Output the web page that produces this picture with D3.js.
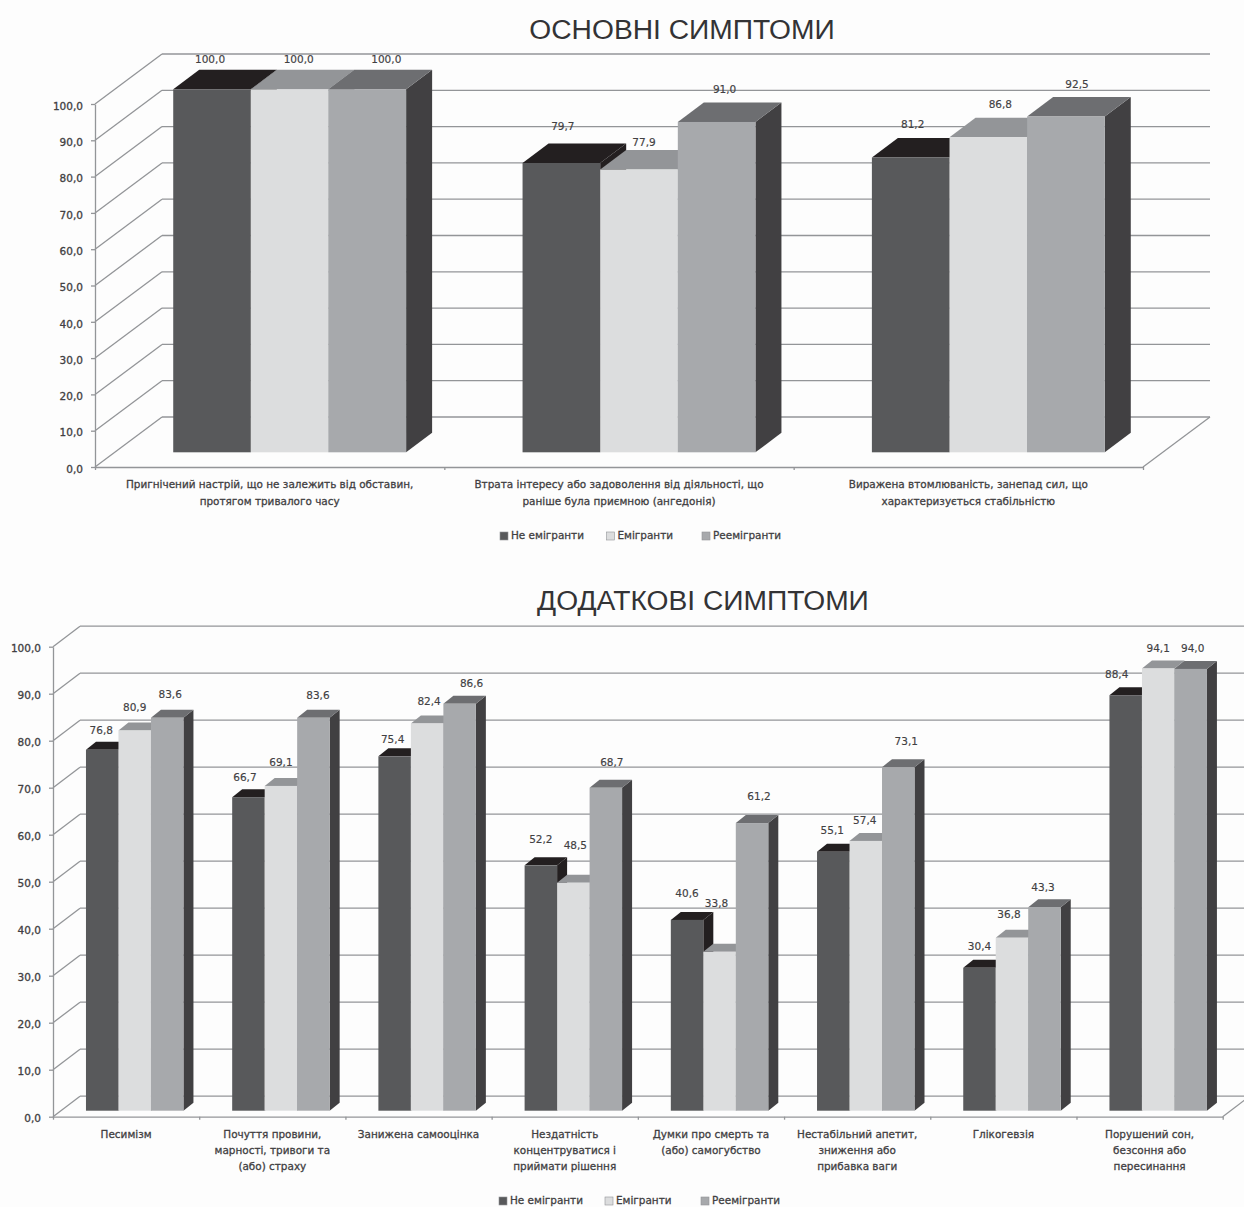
<!DOCTYPE html>
<html>
<head>
<meta charset="utf-8">
<title>Симптоми</title>
<script src="https://cdn.jsdelivr.net/npm/d3@7/dist/d3.min.js"></script>
<style>
  html, body { margin: 0; padding: 0; background: #fdfdfd; }
  svg { display: block; }
  text { font-family: "DejaVu Sans", sans-serif; fill: #414042; }
  .title { font-family: "Liberation Sans", sans-serif; font-size: 28.2px; fill: #333335; }
  .value { font-size: 10.5px; stroke: #414042; stroke-width: 0.15px; }
  .cat, .legend text { font-size: 10.45px; stroke: #414042; stroke-width: 0.3px; }
  .axis text { font-size: 10.5px; stroke: #414042; stroke-width: 0.3px; }
  .axis path, .axis line, .grid line { stroke: #939598; stroke-width: 1.3px; fill: none; }
</style>
</head>
<body>
<svg id="page" width="1244" height="1207"></svg>
<script>
const seriesNames = ["Не емігранти", "Емігранти", "Реемігранти"];
const yTicks = [0, 10, 20, 30, 40, 50, 60, 70, 80, 90, 100];

const mainTitle = "ОСНОВНІ СИМПТОМИ";
const mainCategories = [
  ["Пригнічений настрій, що не залежить від обставин,", "протягом тривалого часу"],
  ["Втрата інтересу або задоволення від діяльності, що", "раніше була приємною (ангедонія)"],
  ["Виражена втомлюваність, занепад сил, що", "характеризується стабільністю"]
];
const mainNonEmigrants = [100.0, 79.7, 81.2];
const mainEmigrants = [100.0, 77.9, 86.8];
const mainReturned = [100.0, 91.0, 92.5];

const extraTitle = "ДОДАТКОВІ СИМПТОМИ";
const extraCategories = [
  ["Песимізм"],
  ["Почуття провини,", "марності, тривоги та", "(або) страху"],
  ["Занижена самооцінка"],
  ["Нездатність", "концентруватися і", "приймати рішення"],
  ["Думки про смерть та", "(або) самогубство"],
  ["Нестабільний апетит,", "зниження або", "прибавка ваги"],
  ["Глікогевзія"],
  ["Порушений сон,", "безсоння або", "пересинання"]
];
const extraNonEmigrants = [76.8, 66.7, 75.4, 52.2, 40.6, 55.1, 30.4, 88.4];
const extraEmigrants = [80.9, 69.1, 82.4, 48.5, 33.8, 57.4, 36.8, 94.1];
const extraReturned = [83.6, 83.6, 86.6, 68.7, 61.2, 73.1, 43.3, 94.0];

// hand placed value labels: shift from the bar's top edge, [dx, dy] per bar
const mainLabelShift = [
  [[-2, -29], [9, -29], [19, -29]],
  [[1.5, -36], [5, -27], [8, -32]],
  [[2, -33], [12, -32], [11, -32]]
];
const extraLabelShift = [
  [[-1, -19], [0, -22], [3, -23]],
  [[-3.5, -19], [0, -23], [4.5, -22]],
  [[-2, -16], [2, -21], [12, -20]],
  [[0, -25], [2, -37], [6, -25]],
  [[0, -26], [-3, -48], [7, -26]],
  [[-1, -21], [-1, -20], [8, -25]],
  [[0, -21], [-3, -23], [-1.5, -19]],
  [[-9, -20], [0, -19], [2, -20]]
];

const faceColors = ["#58595b", "#dcddde", "#a7a9ac"];
const topColors = ["#231f20", "#939598", "#6d6e71"];
const sideColors = ["#231f20", "#939598", "#414042"];

const fmt = v => v.toFixed(1).replace(".", ",");
const svg = d3.select("#page");

function drawChart(o) {
  const g = svg.append("g");
  const values = [o.nonEmigrants, o.emigrants, o.returned];

  const x = d3.scaleBand().domain(d3.range(o.categories.length)).range([o.left, o.right]);
  const y = d3.scaleLinear().domain([0, 100]).range([o.bottom, o.top]);

  // bars take 2/3 of a category, the rest is the gap
  const gap = x.bandwidth() * o.gapShare / 2;
  const inner = d3.scaleBand().domain(d3.range(3)).range([gap, x.bandwidth() - gap]);

  // back wall lines and the slanted lines on the side wall
  const grid = g.append("g").attr("class", "grid");
  grid.selectAll(".back").data(yTicks).join("line")
    .attr("x1", o.left + o.wallX).attr("x2", o.right + o.wallX)
    .attr("y1", d => y(d) + o.wallY).attr("y2", d => y(d) + o.wallY);
  grid.selectAll(".wall").data(yTicks).join("line")
    .attr("x1", o.left).attr("x2", o.left + o.wallX)
    .attr("y1", d => y(d)).attr("y2", d => y(d) + o.wallY);
  grid.append("line")
    .attr("x1", o.right).attr("x2", o.right + o.wallX)
    .attr("y1", y(0)).attr("y2", y(0) + o.wallY);

  const axisY = d3.axisLeft(y).tickValues(yTicks).tickFormat(fmt).tickSize(4).tickPadding(8).tickSizeOuter(0);
  g.append("g").attr("class", "axis").attr("transform", `translate(${o.left},0)`).call(axisY)
    .selectAll("text").attr("dy", "0.5em");

  const axisX = d3.axisBottom(d3.scaleLinear().domain([0, o.categories.length]).range([o.left, o.right]))
    .tickValues(d3.range(o.categories.length + 1)).tickFormat("").tickSize(3).tickSizeOuter(0);
  g.append("g").attr("class", "axis").attr("transform", `translate(0,${o.bottom})`).call(axisX);

  // the bars, left to right so the neighbour covers the side face
  o.categories.forEach((cat, i) => {
    const bars = g.append("g");
    values.forEach((vals, s) => {
      const x0 = x(i) + inner(s) + o.floorX;
      const x1 = x0 + inner.bandwidth();
      const base = y(0) + o.floorY;
      const top = y(vals[i]) + o.floorY;
      const dx = o.depthX, dy = o.depthY;
      bars.append("path").attr("fill", sideColors[s])
        .attr("d", d3.line()([[x1, base], [x1 + dx, base + dy], [x1 + dx, top + dy], [x1, top]]));
      bars.append("path").attr("fill", topColors[s])
        .attr("d", d3.line()([[x0, top], [x0 + dx, top + dy], [x1 + dx, top + dy], [x1, top]]));
      bars.append("rect").attr("fill", faceColors[s])
        .attr("x", x0).attr("y", top).attr("width", inner.bandwidth()).attr("height", base - top);
    });
  });

  // value labels go on last, some of them sit over a neighbouring bar
  o.categories.forEach((cat, i) => {
    values.forEach((vals, s) => {
      const top = y(vals[i]) + o.floorY;
      const shift = o.labelShift[i][s];
      g.append("text").attr("class", "value")
        .attr("x", x(i) + inner(s) + o.floorX + inner.bandwidth() / 2 + shift[0])
        .attr("y", top + shift[1])
        .attr("text-anchor", "middle").attr("dominant-baseline", "middle")
        .text(fmt(vals[i]));
    });
  });

  // category captions
  o.categories.forEach((lines, i) => {
    const t = g.append("text").attr("class", "cat").attr("text-anchor", "middle");
    lines.forEach((line, k) => {
      t.append("tspan").attr("x", x(i) + x.bandwidth() / 2)
        .attr("y", o.captionY + k * o.captionStep).text(line);
    });
  });

  g.append("text").attr("class", "title").attr("text-anchor", "middle")
    .attr("x", o.titleX).attr("y", o.titleY).text(o.title);

  const legend = g.append("g").attr("class", "legend");
  seriesNames.forEach((name, s) => {
    legend.append("rect").attr("x", o.legendX[s]).attr("y", o.legendY - 4)
      .attr("width", 8).attr("height", 8)
      .attr("fill", faceColors[s]).attr("stroke", "#939598").attr("stroke-width", 0.6);
    legend.append("text").attr("x", o.legendX[s] + 11).attr("y", o.legendY)
      .attr("dominant-baseline", "middle").text(name);
  });
}

drawChart({
  title: mainTitle, titleX: 682, titleY: 39,
  categories: mainCategories,
  nonEmigrants: mainNonEmigrants, emigrants: mainEmigrants, returned: mainReturned,
  labelShift: mainLabelShift,
  left: 95, right: 1143, top: 104, bottom: 467,
  wallX: 67, wallY: -50,
  floorX: 20, floorY: -14.7,
  depthX: 26, depthY: -19.5,
  gapShare: 1 / 3,
  captionY: 488, captionStep: 16.5,
  legendX: [500, 606.5, 702], legendY: 536
});

drawChart({
  title: extraTitle, titleX: 703, titleY: 610,
  categories: extraCategories,
  nonEmigrants: extraNonEmigrants, emigrants: extraEmigrants, returned: extraReturned,
  labelShift: extraLabelShift,
  left: 53, right: 1222.7, top: 646.7, bottom: 1116.7,
  wallX: 27, wallY: -20.5,
  floorX: 8.6, floorY: -6,
  depthX: 10, depthY: -8,
  gapShare: 1 / 3,
  captionY: 1138, captionStep: 16,
  legendX: [499, 605, 701], legendY: 1201
});
</script>
</body>
</html>
